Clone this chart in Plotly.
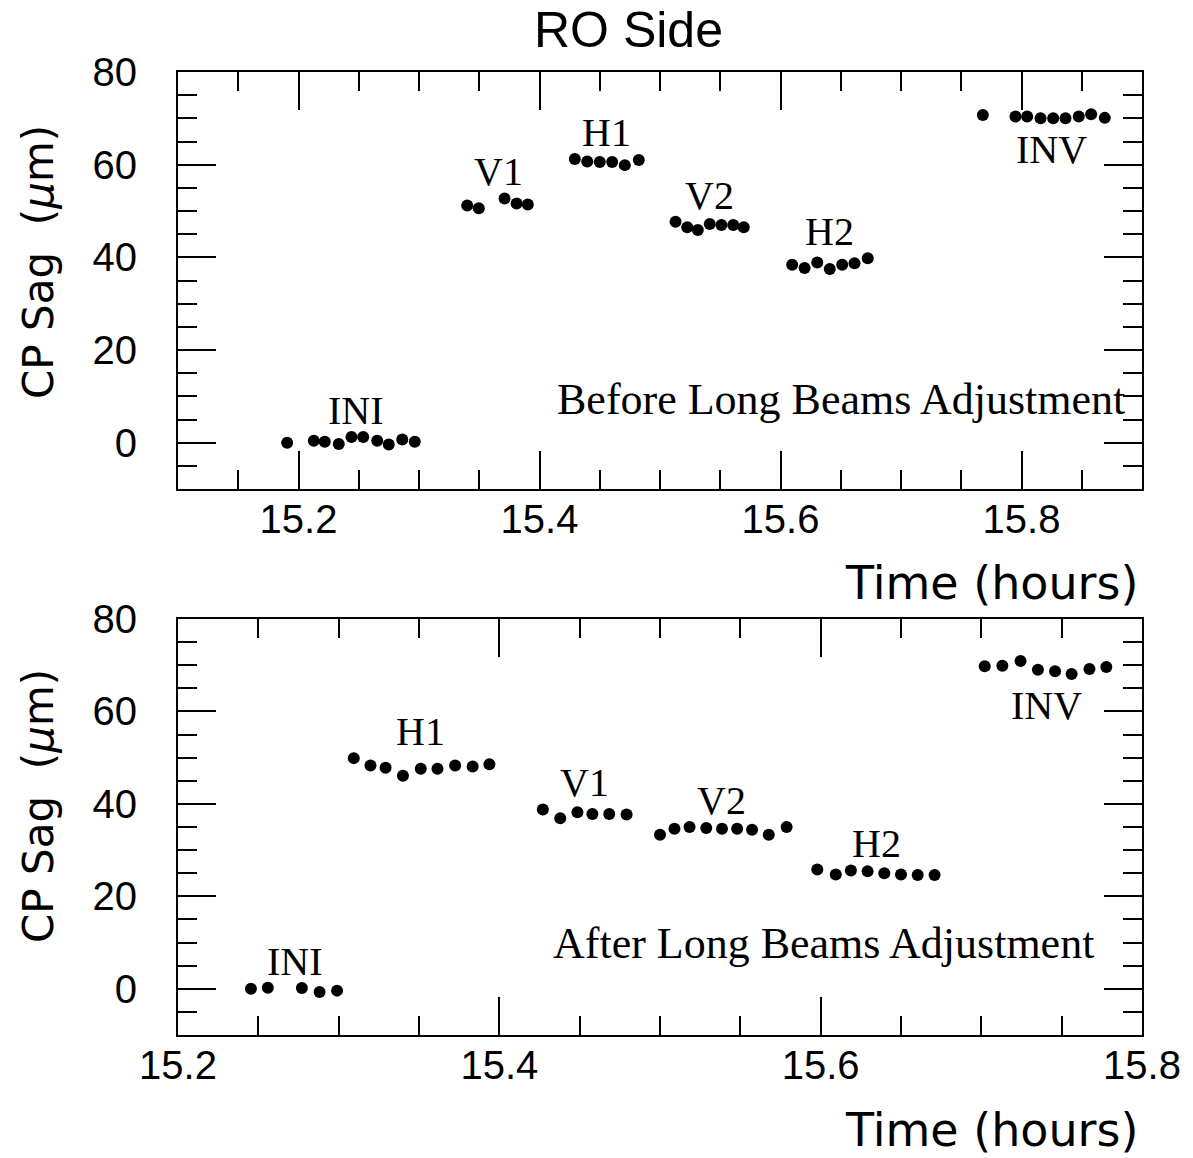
import plotly.graph_objects as go

# ---- Before long beams adjustment (top panel) ----
top_time = [
    15.1906, 15.2127, 15.2218, 15.2334, 15.2440, 15.2537, 15.2653, 15.2749, 15.2861, 15.2965,
    15.3400, 15.3496, 15.3710, 15.3810, 15.3903,
    15.4293, 15.4396, 15.4500, 15.4603, 15.4708, 15.4824,
    15.5129, 15.5226, 15.5314, 15.5413, 15.5510, 15.5608, 15.5695,
    15.6097, 15.6200, 15.6305, 15.6409, 15.6512, 15.6614, 15.6724,
    15.7679, 15.7950, 15.8047, 15.8158, 15.8263, 15.8365, 15.8475, 15.8578, 15.8691,
]
top_sag = [
    0.0, 0.4, 0.2, -0.3, 1.2, 1.2, 0.4, -0.4, 0.7, 0.2,
    51.2, 50.6, 52.7, 51.6, 51.4,
    61.2, 60.7, 60.6, 60.6, 59.9, 61.0,
    47.7, 46.5, 45.9, 47.2, 47.0, 47.0, 46.5,
    38.4, 37.7, 38.9, 37.5, 38.4, 38.7, 39.8,
    70.7, 70.4, 70.4, 70.0, 70.0, 70.0, 70.4, 70.9, 70.1,
]
top_step = (["INI"] * 10 + ["V1"] * 5 + ["H1"] * 6 + ["V2"] * 7
            + ["H2"] * 7 + ["INV"] * 9)

# ---- After long beams adjustment (bottom panel) ----
bot_time = [
    15.2454, 15.2559, 15.2771, 15.2881, 15.2990,
    15.3094, 15.3198, 15.3292, 15.3400, 15.3511, 15.3615, 15.3725, 15.3834, 15.3938,
    15.4271, 15.4379, 15.4486, 15.4579, 15.4684, 15.4792,
    15.5000, 15.5090, 15.5184, 15.5288, 15.5386, 15.5480, 15.5573, 15.5677, 15.5788,
    15.5979, 15.6094, 15.6188, 15.6292, 15.6396, 15.6500, 15.6604, 15.6709,
    15.7021, 15.7131, 15.7244, 15.7352, 15.7459, 15.7562, 15.7673, 15.7778,
]
bot_sag = [
    0.0, 0.2, 0.15, -0.7, -0.4,
    49.9, 48.3, 47.8, 46.1, 47.6, 47.6, 48.3, 48.1, 48.6,
    38.8, 36.9, 38.2, 37.8, 37.8, 37.7,
    33.3, 34.6, 35.0, 34.8, 34.6, 34.6, 34.4, 33.3, 35.0,
    25.8, 24.7, 25.6, 25.4, 25.0, 24.7, 24.6, 24.6,
    69.8, 69.9, 70.9, 69.0, 68.7, 68.1, 69.2, 69.6,
]
bot_step = (["INI"] * 5 + ["H1"] * 9 + ["V1"] * 6 + ["V2"] * 9
            + ["H2"] * 8 + ["INV"] * 8)

labels_below = {"INV"}

W, H = 1193, 1158
SERIF = "Liberation Serif, Times New Roman, serif"
SANS = "Liberation Sans, Arial, sans-serif"
TITLE_FONT = "DejaVu Sans, sans-serif"

fig = go.Figure()


def add_panel(times, sags, steps, xa, ya, note):
    fig.add_trace(go.Scatter(
        x=times, y=sags, mode="markers", xaxis=xa, yaxis=ya,
        marker=dict(color="black", size=12, line=dict(width=0)),
        showlegend=False, hoverinfo="x+y",
    ))
    # one label per step, centred over (or under) its group of points
    seen = []
    for s in steps:
        if s not in seen:
            seen.append(s)
    for s in seen:
        ts = [t for t, g in zip(times, steps) if g == s]
        vs = [v for v, g in zip(sags, steps) if g == s]
        below = s in labels_below
        fig.add_annotation(
            x=sum(ts) / len(ts), y=min(vs) if below else max(vs),
            xref=xa, yref=ya, text=s, showarrow=False,
            yanchor="top" if below else "bottom",
            yshift=-7 if below else 2,
            font=dict(family=SERIF, size=40, color="black"),
        )
    fig.add_annotation(
        x=note[1], y=note[2], xref=xa, yref=ya, text=note[0], showarrow=False,
        font=dict(family=SERIF, size=44, color="black"),
    )


add_panel(top_time, top_sag, top_step, "x", "y",
          ("Before Long Beams Adjustment", 15.65, 9.3))
add_panel(bot_time, bot_sag, bot_step, "x2", "y2",
          ("After Long Beams Adjustment", 15.6017, 9.7))


def frame_axis(**kw):
    ax = dict(
        showline=True, linecolor="black", linewidth=2, mirror="allticks",
        ticks="inside", ticklen=38, tickwidth=2, tickcolor="black",
        showgrid=False, zeroline=False, fixedrange=True, automargin=False,
        tickfont=dict(family=SANS, size=40, color="black"),
        minor=dict(ticks="inside", ticklen=19, tickwidth=2,
                   tickcolor="black", showgrid=False),
    )
    ax.update(kw)
    return ax


x_dom = [178 / W, 1142 / W]
top_dom = [1 - 489 / H, 1 - 72 / H]
bot_dom = [1 - 1035 / H, 1 - 619 / H]

fig.update_layout(
    width=W, height=H,
    margin=dict(l=0, r=0, t=0, b=0, autoexpand=False),
    paper_bgcolor="white", plot_bgcolor="white",
    xaxis=frame_axis(domain=x_dom, anchor="y", range=[15.1, 15.9],
                     tick0=15.2, dtick=0.2, tickformat=".1f",
                     ticklabelstandoff=-6,
                     minor_dtick=0.05, minor_tick0=15.1),
    yaxis=frame_axis(domain=top_dom, anchor="x", range=[-10, 80],
                     tick0=0, dtick=20, ticklabelstandoff=31,
                     minor_dtick=5, minor_tick0=0),
    xaxis2=frame_axis(domain=x_dom, anchor="y2", range=[15.2, 15.8],
                      tickvals=[15.2, 15.4, 15.6, 15.8], tickformat=".1f",
                      ticklabelstandoff=-6,
                      minor_dtick=0.05, minor_tick0=15.2),
    yaxis2=frame_axis(domain=bot_dom, anchor="x2", range=[-10, 80],
                      tick0=0, dtick=20, ticklabelstandoff=31,
                      minor_dtick=5, minor_tick0=0),
)

# panel title and axis titles
fig.add_annotation(x=628 / W, y=1 - 30 / H, xref="paper", yref="paper",
                   xanchor="center", yanchor="middle",
                   text="RO Side", showarrow=False,
                   font=dict(family=SANS, size=50, color="black"))
for yc in (583, 1130):
    fig.add_annotation(x=1140 / W, y=1 - yc / H, xref="paper", yref="paper",
                       xanchor="right", yanchor="middle",
                       text="Time (hours)", showarrow=False,
                       font=dict(family=TITLE_FONT, size=46, color="black"))
for yc in (262, 806):
    fig.add_annotation(x=38 / W, y=1 - yc / H, xref="paper", yref="paper",
                       xanchor="center", yanchor="middle", textangle=-90,
                       text="CP Sag  (<i>μ</i>m)", showarrow=False,
                       font=dict(family=TITLE_FONT, size=42, color="black"))

fig.write_html("out.html")
